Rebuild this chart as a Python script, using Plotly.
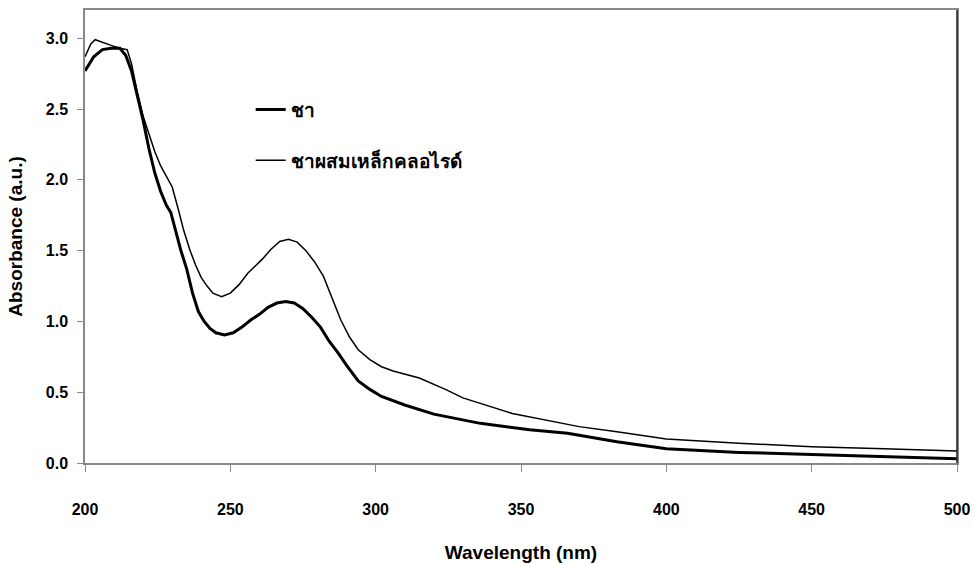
import plotly.graph_objects as go

# Tea (ชา)
wl_tea = [200, 203, 206, 209, 212, 214, 216, 218, 220, 222, 224, 226, 228, 229.5, 231, 233, 235, 237,
          239, 241, 243, 245, 248, 251, 254, 257, 260, 263, 266, 269, 272, 275, 278, 281, 284, 287,
          290, 294, 298, 302, 310, 320, 336, 353, 366, 383, 400, 425, 450, 475, 500]
abs_tea = [2.77, 2.87, 2.92, 2.93, 2.93, 2.88, 2.77, 2.60, 2.42, 2.22, 2.05, 1.92, 1.82, 1.77, 1.65, 1.50, 1.37, 1.20,
           1.07, 1.00, 0.95, 0.92, 0.905, 0.92, 0.96, 1.01, 1.05, 1.10, 1.13, 1.14, 1.13, 1.09, 1.03, 0.96, 0.86, 0.78,
           0.69, 0.58, 0.52, 0.47, 0.41, 0.345, 0.28, 0.235, 0.21, 0.15, 0.10, 0.075, 0.06, 0.045, 0.03]

# Tea mixed with iron chloride (ชาผสมเหล็กคลอไรด์)
wl_fe = [200, 202, 203.5, 206, 209, 212, 214.5, 216, 218, 220, 222, 224, 226, 228, 230, 232, 234, 236,
         238, 240, 242, 244, 247, 250, 253, 256, 258, 261, 264, 267, 270, 273, 276, 279, 282, 285, 288,
         291, 294, 298, 302, 306, 315, 324, 330, 347, 370, 383, 400, 425, 450, 475, 500]
abs_fe = [2.87, 2.96, 2.99, 2.97, 2.95, 2.93, 2.92, 2.82, 2.62, 2.45, 2.32, 2.20, 2.10, 2.02, 1.95, 1.80, 1.64, 1.51,
          1.40, 1.31, 1.25, 1.20, 1.175, 1.20, 1.26, 1.34, 1.38, 1.44, 1.51, 1.565, 1.58, 1.56, 1.50, 1.42, 1.32, 1.16, 1.01,
          0.89, 0.80, 0.73, 0.68, 0.65, 0.60, 0.52, 0.46, 0.35, 0.257, 0.22, 0.17, 0.14, 0.115, 0.10, 0.085]

x_ticks = [200, 250, 300, 350, 400, 450, 500]
y_ticks = [0.0, 0.5, 1.0, 1.5, 2.0, 2.5, 3.0]

FONT = "Liberation Sans, Arial, Noto Sans, sans-serif"

fig = go.Figure()
fig.add_trace(go.Scatter(x=wl_tea, y=abs_tea, mode="lines", name="ชา", legendgroup="a",
                         line=dict(color="black", width=3)))
fig.add_trace(go.Scatter(x=wl_fe, y=abs_fe, mode="lines", name="ชาผสมเหล็กคลอไรด์", legendgroup="b",
                         line=dict(color="black", width=1.5)))

# plot box at x 85-957, y 10-463 of a 975x564 page (body margin removed below)
fig.update_layout(
    width=975, height=564, autosize=False,
    margin=dict(l=85, r=18, t=10, b=101),
    paper_bgcolor="white", plot_bgcolor="white",
    font=dict(family=FONT, color="black"),
    showlegend=True,
    legend=dict(x=0.19, y=0.822, xanchor="left", yanchor="top",
                font=dict(size=19, family=FONT, weight="bold"),
                tracegroupgap=23, bgcolor="rgba(0,0,0,0)"),
    xaxis=dict(range=[200, 500], tickvals=x_ticks, ticktext=[str(v) for v in x_ticks],
               automargin=False,
               showgrid=False, zeroline=False, showline=True, linecolor="#888888", linewidth=1.5,
               mirror=True, ticks="outside", ticklen=7, tickcolor="#888888",
               tickfont=dict(size=16, family=FONT, weight="bold"), ticklabelstandoff=24,
               title=dict(text="Wavelength (nm)", font=dict(size=19, family=FONT, weight="bold"), standoff=29)),
    yaxis=dict(range=[0, 3.2], tickvals=y_ticks, ticktext=[f"{v:.1f}" for v in y_ticks],
               automargin=False,
               showgrid=False, zeroline=False, showline=True, linecolor="#888888", linewidth=1.5,
               mirror=True, ticks="outside", ticklen=6, tickcolor="#888888",
               tickfont=dict(size=16, family=FONT, weight="bold"), ticklabelstandoff=6,
               title=dict(text="Absorbance (a.u.)", font=dict(size=19, family=FONT, weight="bold"), standoff=18)),
)
fig.add_shape(type="line", xref="paper", yref="paper", x0=1, x1=1, y0=0, y1=1,
              line=dict(color="#222222", width=1.5))

fig.write_html("out.html",
               config={"displayModeBar": False, "responsive": False},
               post_script="document.body.style.margin='0';document.body.style.overflow='hidden';")
